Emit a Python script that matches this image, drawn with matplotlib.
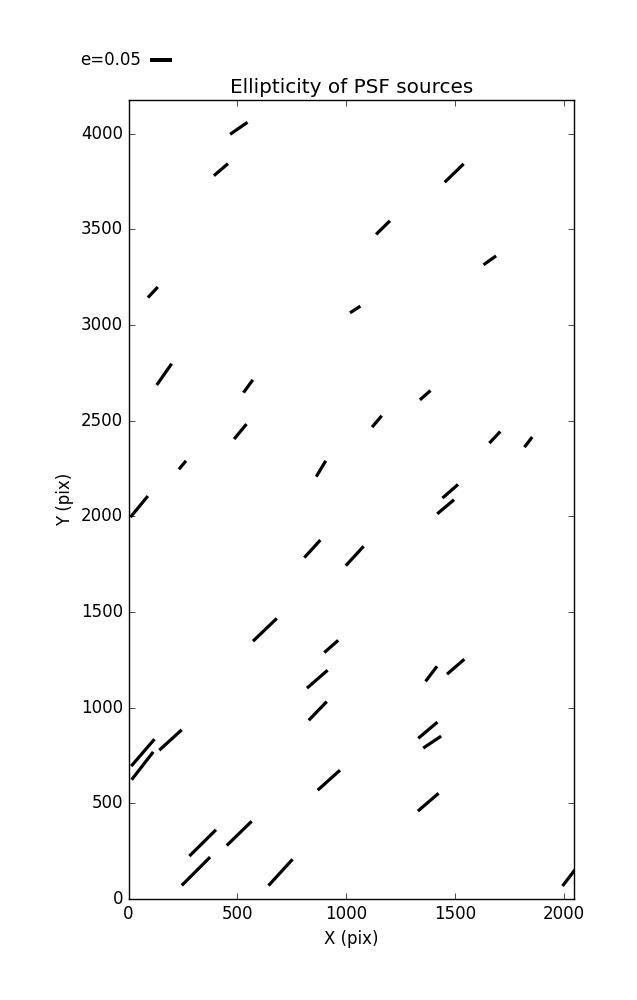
import matplotlib
matplotlib.use("Agg")
import matplotlib.pyplot as plt

plt.style.use("classic")
plt.rcParams["font.family"] = ["DejaVu Sans"]

# PSF source centres (pix), ellipticity and position angle (deg, on screen)
x_pos = [507, 425, 112, 1497, 1170, 1661, 1042, 164, 550, 1364, 514, 1142,
         1684, 1838, 248, 885, 49, 1479, 1458, 845, 1040, 627, 932, 868,
         870, 1392, 1504, 1376, 1396, 66, 64, 193, 921, 1378, 341, 509,
         310, 699, 2037]
y_pos = [4028, 3812, 3171, 3794, 3509, 3338, 3081, 2742, 2680, 2633, 2443,
         2496, 2413, 2388, 2268, 2249, 2051, 2131, 2050, 1830, 1793, 1407,
         1320, 1149, 983, 1177, 1214, 882, 820, 765, 696, 831, 621, 506,
         293, 343, 145, 139, 130]
ellip = [0.048, 0.042, 0.033, 0.060, 0.044, 0.035, 0.028, 0.059, 0.036,
         0.032, 0.044, 0.034, 0.036, 0.029, 0.025, 0.042, 0.062, 0.047,
         0.050, 0.054, 0.060, 0.075, 0.042, 0.062, 0.059, 0.043, 0.052,
         0.057, 0.049, 0.081, 0.080, 0.069, 0.068, 0.062, 0.085, 0.079,
         0.091, 0.081, 0.068]
angle = [34.6, 40.6, 46.9, 44.1, 44.4, 35.3, 32.6, 55.0, 53.8, 41.3, 50.4,
         49.6, 46.8, 52.4, 50.2, 59.1, 50.5, 41.1, 40.0, 47.7, 47.4, 43.8,
         41.3, 41.0, 46.1, 52.8, 40.9, 40.2, 33.7, 49.2, 52.2, 42.3, 41.9,
         40.7, 44.7, 44.2, 45.0, 47.6, 52.6]
zeros = [0.0] * len(ellip)

key_e = 0.05

fig = plt.figure(figsize=(6.37, 10.0), dpi=100, facecolor="white")
ax = fig.add_axes([128.5 / 637, 0.101, (574 - 128.5) / 637, 0.799])
ax.set_facecolor("white")

Q = ax.quiver(x_pos, y_pos, ellip, zeros, angles=angle, pivot="middle",
              headwidth=0, headlength=0, headaxislength=0,
              scale=key_e / 0.22, scale_units="inches",
              units="dots", width=3.2, color="black")
ax.quiverkey(Q, 150 / 637, 0.94, key_e, "e=0.05", labelpos="W",
             coordinates="figure", labelsep=0.09,
             fontproperties={"size": 12})

ax.set_xlim(0, 2048)
ax.set_ylim(0, 4176)
ax.set_xticks([0, 500, 1000, 1500, 2000])
ax.set_yticks([0, 500, 1000, 1500, 2000, 2500, 3000, 3500, 4000])
ax.minorticks_off()
ax.tick_params(direction="in", length=4, top=True, right=True, labelsize=12)
ax.set_xlabel("X (pix)", fontsize=12)
ax.set_ylabel("Y (pix)", fontsize=12)
ax.set_title("Ellipticity of PSF sources", fontsize=14.4)

fig.savefig("out.png", dpi=100, facecolor="white")
